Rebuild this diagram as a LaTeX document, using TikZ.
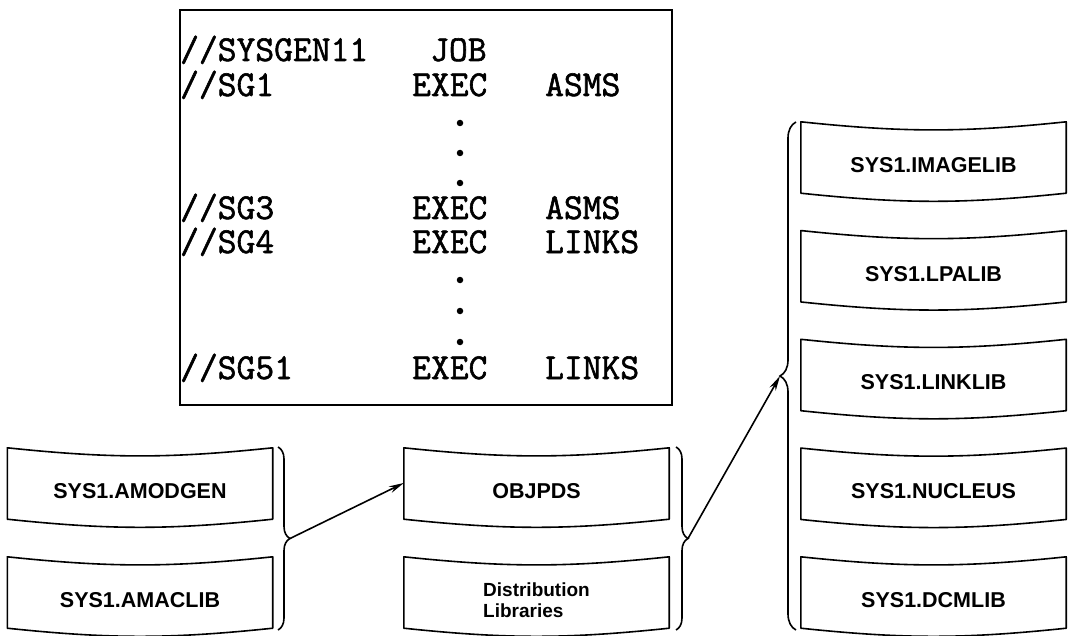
\documentclass[tikz,border=0pt]{standalone}
\usepackage{fontspec}
\setmainfont{Liberation Sans}
\newfontfamily\jclfont{Latin Modern Mono}[FakeBold=1.6]
\usetikzlibrary{arrows.meta,calc,decorations.pathreplacing}

\tikzset{
  jcl/.style={font=\jclfont\fontsize{36.5}{37}\selectfont, anchor=base west, inner sep=0pt,
              text height=22pt, text depth=0pt},
  jdot/.style={circle, fill=black, inner sep=0pt, minimum size=6.5pt},
  jobbox/.style={draw, line width=2.2pt, inner sep=0pt},
  ds/.style={minimum width=265pt, minimum height=71pt, inner sep=0pt,
             font=\bfseries\fontsize{21.5}{23}\selectfont},
  dsline/.style={line width=1.6pt, line join=round},
  grp/.style={decorate, decoration={brace, amplitude=#1}, line width=1.6pt},
  grp/.default=12pt,
  flow/.style={line width=1.6pt, -{Stealth[length=15pt, width=7pt]}},
}
% outline of a data-set symbol: sagging top and bottom edges
\newcommand\dsoutline[1]{%
  \draw[dsline] ($(#1.north west)+(0,-7.5)$) to[bend right=6] ($(#1.north east)+(0,-7.5)$)
     -- ($(#1.south east)+(0,-7.5)$) to[bend left=6] ($(#1.south west)+(0,-7.5)$) -- cycle;}

\begin{document}
\begin{tikzpicture}[x=1pt,y=-1pt]
\useasboundingbox (0,0) rectangle (1075,636);

% ---- job stream ----
\node[jobbox, minimum width=492pt, minimum height=395pt] (job) at (426,207.5) {};
\node[jcl] (l1a) at (180,61) {//SYSGEN11};
\node[jcl] (l1b) at (430,61) {JOB};
\node[jcl] (l2a) at (180,96) {//SG1};
\node[jcl] (l2b) at (412,96) {EXEC};
\node[jcl] (l2c) at (545,96) {ASMS};
\node[jdot] (d1) at (460,123) {};
\node[jdot] (d2) at (460,153) {};
\node[jdot] (d3) at (460,183) {};
\node[jcl] (l3a) at (180,219) {//SG3};
\node[jcl] (l3b) at (412,219) {EXEC};
\node[jcl] (l3c) at (545,219) {ASMS};
\node[jcl] (l4a) at (180,253) {//SG4};
\node[jcl] (l4b) at (412,253) {EXEC};
\node[jcl] (l4c) at (545,253) {LINKS};
\node[jdot] (d4) at (460,280) {};
\node[jdot] (d5) at (460,311) {};
\node[jdot] (d6) at (460,342) {};
\node[jcl] (l5a) at (180,379) {//SG51};
\node[jcl] (l5b) at (412,379) {EXEC};
\node[jcl] (l5c) at (545,379) {LINKS};

% ---- macro libraries ----
\node[ds] (amodgen) at (140,491) {SYS1.AMODGEN};
\node[ds] (amaclib) at (140,600) {SYS1.AMACLIB};
\dsoutline{amodgen}\dsoutline{amaclib}

% ---- object and distribution libraries ----
\node[ds] (objpds) at (536.5,491) {OBJPDS};
\node[ds, align=left, font=\bfseries\fontsize{19}{20.5}\selectfont] (distlib) at (536.5,600) {Distribution\\Libraries};
\dsoutline{objpds}\dsoutline{distlib}

% ---- target libraries ----
\node[ds] (imagelib) at (933.5,165) {SYS1.IMAGELIB};
\node[ds] (lpalib)   at (933.5,273.75) {SYS1.LPALIB};
\node[ds] (linklib)  at (933.5,382.5) {SYS1.LINKLIB};
\node[ds] (nucleus)  at (933.5,491.25) {SYS1.NUCLEUS};
\node[ds] (dcmlib)   at (933.5,600) {SYS1.DCMLIB};
\dsoutline{imagelib}\dsoutline{lpalib}\dsoutline{linklib}\dsoutline{nucleus}\dsoutline{dcmlib}

% ---- braces grouping the libraries ----
\coordinate (lbtop) at (278,447);
\coordinate (lbbot) at (278,630);
\coordinate (lbtip) at (290,538.5);
\draw[grp] (lbtop) -- (lbbot);

\coordinate (mbtop) at (676,447);
\coordinate (mbbot) at (676,630);
\coordinate (mbtip) at (688,538.5);
\draw[grp] (mbtop) -- (mbbot);

\coordinate (rbtop) at (796,122);
\coordinate (rbbot) at (796,630);
\coordinate (rbtip) at (780,376);
\draw[grp=16pt] (rbbot) -- (rbtop);

% ---- flow ----
\draw[flow] (lbtip) -- ([yshift=8pt]objpds.west);
\draw[flow] (mbtip) -- (rbtip);
\end{tikzpicture}
\end{document}
